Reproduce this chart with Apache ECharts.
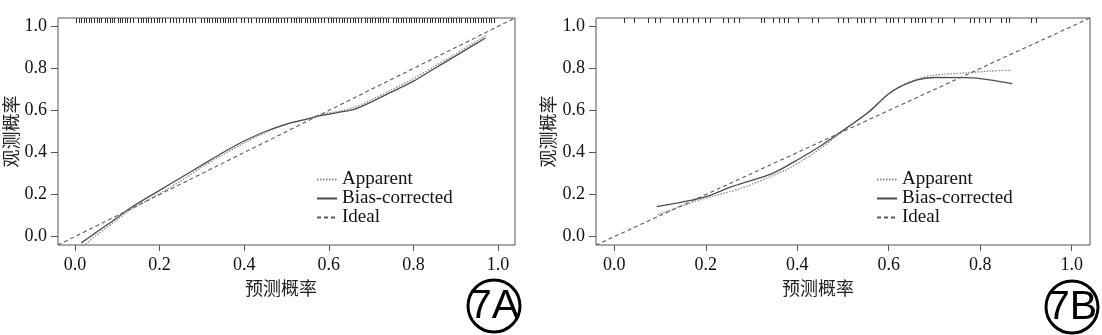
<!DOCTYPE html>
<html>
<head>
<meta charset="utf-8">
<title>Calibration curves</title>
<script src="https://cdn.jsdelivr.net/npm/echarts@6/dist/echarts.min.js"></script>
<style>
  html, body { margin: 0; padding: 0; background: #fff; }
  #chart { width: 1102px; height: 335px; }
</style>
</head>
<body>
<div id="chart"></div>
<script>
// Axis ticks shared by both panels
const tickValues = [0, 0.2, 0.4, 0.6, 0.8, 1.0];
const axisMin = -0.04;
const axisMax = 1.04;
const legendNames = ['Apparent', 'Bias-corrected', 'Ideal'];

// Panel 7A: apparent and bias-corrected calibration curves
const leftApparentX = [0.02, 0.05, 0.10, 0.13, 0.20, 0.25, 0.30, 0.35, 0.40, 0.45, 0.50, 0.55, 0.58, 0.62, 0.66, 0.70, 0.75, 0.80, 0.85, 0.90, 0.97];
const leftApparentY = [-0.045, 0.005, 0.08, 0.125, 0.205, 0.265, 0.33, 0.39, 0.445, 0.495, 0.535, 0.56, 0.58, 0.595, 0.615, 0.65, 0.70, 0.752, 0.81, 0.87, 0.955];
const leftBiasX = [0.015, 0.05, 0.10, 0.13, 0.20, 0.25, 0.30, 0.35, 0.40, 0.45, 0.50, 0.55, 0.58, 0.62, 0.66, 0.70, 0.75, 0.80, 0.85, 0.90, 0.97];
const leftBiasY = [-0.03, 0.02, 0.09, 0.135, 0.22, 0.28, 0.34, 0.40, 0.455, 0.50, 0.535, 0.56, 0.575, 0.59, 0.605, 0.64, 0.69, 0.74, 0.80, 0.86, 0.945];
// Panel 7A: predicted probabilities shown as a rug along the top
const leftRugX = [
  0.003, 0.009, 0.014, 0.021, 0.027, 0.033, 0.038, 0.045, 0.051, 0.056, 0.062,
  0.070, 0.075, 0.082, 0.088, 0.093, 0.101, 0.106, 0.112, 0.119, 0.124, 0.131, 0.137,
  0.149, 0.155, 0.161, 0.168, 0.173, 0.180, 0.186, 0.193, 0.199, 0.205, 0.212,
  0.224, 0.231, 0.238, 0.247,
  0.255, 0.262, 0.269, 0.276, 0.283,
  0.298, 0.304, 0.311, 0.317, 0.323, 0.330, 0.336, 0.342, 0.349, 0.355, 0.361,
  0.367, 0.374, 0.381,
  0.393, 0.400, 0.408, 0.415,
  0.429, 0.436, 0.443, 0.450, 0.456,
  0.462, 0.468, 0.475, 0.481, 0.488, 0.494, 0.501,
  0.511, 0.517, 0.523, 0.529, 0.535,
  0.543, 0.549, 0.556, 0.562, 0.568, 0.575, 0.581, 0.588,
  0.598, 0.604, 0.611, 0.617, 0.624, 0.630,
  0.637, 0.643, 0.650, 0.657, 0.663, 0.670, 0.677,
  0.685, 0.691, 0.697, 0.703, 0.709, 0.716, 0.722, 0.728, 0.734, 0.740,
  0.752, 0.758, 0.764, 0.770, 0.776, 0.783, 0.789, 0.795, 0.801, 0.807, 0.813, 0.820, 0.826, 0.832,
  0.838, 0.845, 0.851, 0.857, 0.863, 0.870, 0.876, 0.882, 0.888, 0.894, 0.901, 0.907, 0.913,
  0.921, 0.927, 0.934, 0.940, 0.946, 0.953, 0.959, 0.965, 0.972, 0.978, 0.984, 0.991
];

// Panel 7B: apparent and bias-corrected calibration curves
const rightApparentX = [0.095, 0.188, 0.277, 0.377, 0.435, 0.49, 0.55, 0.596, 0.63, 0.661, 0.698, 0.77, 0.82, 0.868];
const rightApparentY = [0.105, 0.175, 0.23, 0.32, 0.395, 0.485, 0.585, 0.67, 0.72, 0.748, 0.768, 0.779, 0.787, 0.792];
const rightBiasX = [0.093, 0.15, 0.20, 0.26, 0.345, 0.39, 0.45, 0.50, 0.555, 0.605, 0.66, 0.70, 0.77, 0.82, 0.87];
const rightBiasY = [0.143, 0.165, 0.19, 0.24, 0.30, 0.352, 0.43, 0.505, 0.59, 0.688, 0.744, 0.757, 0.756, 0.746, 0.728];
// Panel 7B: predicted probabilities rug
const rightRugX = [
  0.022, 0.042, 0.073, 0.089, 0.100, 0.128, 0.139, 0.147, 0.159, 0.171, 0.183, 0.198, 0.210,
  0.237, 0.249, 0.261, 0.273, 0.320, 0.328, 0.347, 0.359, 0.371, 0.379, 0.402, 0.433, 0.445,
  0.488, 0.500, 0.512, 0.531, 0.539, 0.547, 0.559, 0.571, 0.594, 0.602, 0.610, 0.621, 0.633,
  0.649, 0.657, 0.665, 0.672, 0.680, 0.692, 0.708, 0.716, 0.743, 0.778, 0.786, 0.798, 0.810,
  0.821, 0.845, 0.857, 0.864, 0.911, 0.923
];

const zip = (xs, ys) => xs.map((x, i) => [x, ys[i]]);
const idealData = [[axisMin, axisMin], [axisMax, axisMax]];

const serif = 'Liberation Serif';
const cjk = 'Noto Sans CJK SC';
const boxColor = '#555';

function makeGrid(left, width) {
  return {
    left: left, top: 18, width: width, height: 227,
    show: true, borderColor: boxColor, borderWidth: 1, backgroundColor: 'transparent'
  };
}

function makeXAxis(gridIndex, namePad) {
  return {
    type: 'value', gridIndex: gridIndex, min: axisMin, max: axisMax,
    name: '预测概率', nameLocation: 'middle', nameGap: 33,
    nameTextStyle: { fontFamily: cjk, fontSize: 18, color: '#222', padding: [0, namePad, 0, 0] },
    axisLine: { show: false, onZero: false },
    splitLine: { show: false },
    axisTick: { show: true, length: 6, inside: false, customValues: tickValues, lineStyle: { color: boxColor } },
    axisLabel: { customValues: tickValues, margin: 11, fontFamily: serif, fontSize: 18, color: '#111',
      formatter: v => v.toFixed(1) }
  };
}

function makeYAxis(gridIndex, nameGap) {
  return {
    type: 'value', gridIndex: gridIndex, min: axisMin, max: axisMax,
    name: '观测概率', nameLocation: 'middle', nameGap: nameGap, nameRotate: 90,
    nameTextStyle: { fontFamily: cjk, fontSize: 18, color: '#222' },
    axisLine: { show: false, onZero: false },
    splitLine: { show: false },
    axisTick: { show: true, length: 7, inside: false, customValues: tickValues, lineStyle: { color: boxColor } },
    axisLabel: { customValues: tickValues, margin: 11, fontFamily: serif, fontSize: 18, color: '#111',
      formatter: v => v.toFixed(1) }
  };
}

function curveSeries(idx, name, data, style) {
  return {
    type: 'line', name: name, xAxisIndex: idx, yAxisIndex: idx,
    data: data, symbol: 'none', smooth: 0.3,
    lineStyle: style, itemStyle: { color: style.color }, silent: true, animation: false, z: 3
  };
}

function rugSeries(idx, xs) {
  return {
    type: 'custom', xAxisIndex: idx, yAxisIndex: idx, silent: true, animation: false,
    data: xs.map(x => [x, axisMax]),
    encode: { x: 0, y: 1 },
    renderItem: function (params, api) {
      const p = api.coord([api.value(0), api.value(1)]);
      const x = Math.round(p[0]) + 0.5;
      return {
        type: 'line',
        shape: { x1: x, y1: p[1], x2: x, y2: p[1] + 5 },
        style: { stroke: '#333', lineWidth: 1 }
      };
    }
  };
}

const apparentStyle = { color: '#8a8a8a', width: 1.3, type: [1.5, 1.5] };
const biasStyle = { color: '#4d4d4d', width: 1.3, type: 'solid' };
const idealStyle = { color: '#5a5a5a', width: 1.1, type: [4, 3] };

function panelSeries(idx, appX, appY, biasX, biasY, rugX) {
  return [
    curveSeries(idx, 'Apparent', zip(appX, appY), apparentStyle),
    curveSeries(idx, 'Bias-corrected', zip(biasX, biasY), biasStyle),
    curveSeries(idx, 'Ideal', idealData, idealStyle),
    rugSeries(idx, rugX)
  ];
}

function makeLegend(left) {
  return {
    left: left, top: 170, orient: 'vertical', selectedMode: false, padding: 0,
    itemWidth: 20, itemHeight: 10, itemGap: 0,
    itemStyle: { opacity: 0 },
    data: legendNames,
    textStyle: { fontFamily: serif, fontSize: 19, lineHeight: 17, color: '#111', padding: [0, 0, 0, 0] }
  };
}

function badge(cx, cy, label) {
  return {
    type: 'group', children: [
      { type: 'circle', shape: { cx: cx, cy: cy, r: 26 }, style: { fill: 'none', stroke: '#000', lineWidth: 3 } },
      { type: 'text', x: cx, y: cy + 1, style: { text: label, fontFamily: 'Liberation Sans', fontSize: 41,
        fill: '#000', align: 'center', verticalAlign: 'middle' } }
    ]
  };
}

const chart = echarts.init(document.getElementById('chart'), null, { renderer: 'canvas' });
chart.setOption({
  animation: false,
  backgroundColor: '#fff',
  grid: [makeGrid(58, 457), makeGrid(596, 494)],
  xAxis: [makeXAxis(0, 11), makeXAxis(1, 50)],
  yAxis: [makeYAxis(0, 35), makeYAxis(1, 39)],
  legend: [makeLegend(316), makeLegend(876)],
  series: [
    ...panelSeries(0, leftApparentX, leftApparentY, leftBiasX, leftBiasY, leftRugX),
    ...panelSeries(1, rightApparentX, rightApparentY, rightBiasX, rightBiasY, rightRugX)
  ],
  graphic: [badge(494, 306, '7A'), badge(1072, 307, '7B')]
});
</script>
</body>
</html>
